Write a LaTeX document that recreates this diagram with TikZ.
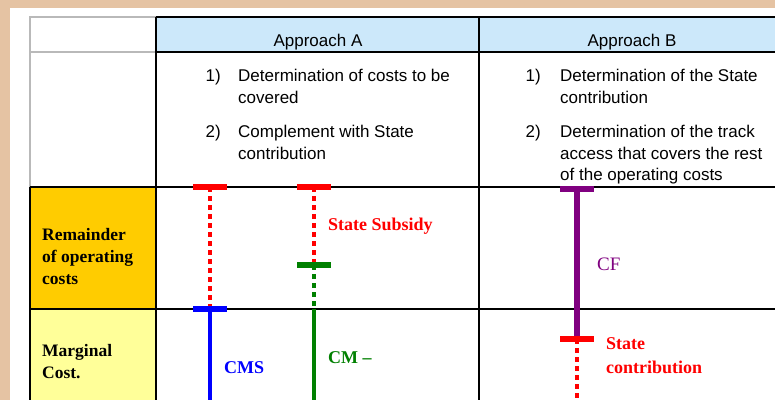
\documentclass[tikz,border=0pt]{standalone}
\usepackage{fontspec}
\setmainfont{Liberation Serif}
\setsansfont{Liberation Sans}
\definecolor{peach}{RGB}{229,195,163}
\definecolor{headblue}{RGB}{204,232,250}
\definecolor{remorange}{RGB}{255,204,0}
\definecolor{margyellow}{RGB}{255,255,153}
\definecolor{cfpurple}{RGB}{128,0,128}
\definecolor{cmgreen}{RGB}{0,128,0}

\begin{document}
\begin{tikzpicture}[x=1pt,y=-1pt,
  rule/.style={line width=1.8pt},
  tbar/.style={line width=5.5pt},
  bar/.style={line width=4.5pt},
  dots/.style={line width=4.5pt,dash pattern=on 4.5pt off 4.5pt},
  head/.style={font=\sffamily\fontsize{17}{21}\selectfont},
  item/.style={font=\sffamily\fontsize{17}{21.5}\selectfont,align=left,anchor=north west,inner sep=0pt},
  num/.style={font=\sffamily\fontsize{17}{21.5}\selectfont,anchor=north east,inner sep=0pt},
  row/.style={font=\bfseries\fontsize{17.5}{22}\selectfont,align=left,anchor=west,inner sep=0pt},
  lab/.style={font=\bfseries\fontsize{18}{24}\selectfont,align=left,anchor=west,inner sep=0pt}]
\useasboundingbox (0,0) rectangle (775,400);
\fill[peach] (0,0) rectangle (775,400);
\fill[white] (10,8) rectangle (775,400);
% cell fills
\fill[headblue] (156,17) rectangle (775,52);
\fill[remorange] (30,187) rectangle (156,309);
\fill[margyellow] (30,309) rectangle (156,400);
% table rules
\draw[rule,gray!55] (156,17) -- (30,17) -- (30,187) (30,52) -- (156,52);
\foreach \y in {17,52,187,309}{\draw[rule] (156,\y) -- (775,\y);};
\foreach \x in {156,479}{\draw[rule] (\x,17) -- (\x,400);};
\draw[rule] (30,187) -- (156,187) (30,309) -- (156,309) (30,187) -- (30,400);
% header and steps
\node[head] (hA) at (318,42) {Approach A};
\node[head] (hB) at (632,42) {Approach B};
\node[num] (nA1) at (221,69) {1)};
\node[item] (tA1) at (238,69) {Determination of costs to be\\covered};
\node[num] (nA2) at (221,125) {2)};
\node[item] (tA2) at (238,125) {Complement with State\\contribution};
\node[num] (nB1) at (541,69) {1)};
\node[item] (tB1) at (560,69) {Determination of the State\\contribution};
\node[num] (nB2) at (541,125) {2)};
\node[item] (tB2) at (560,125) {Determination of the track\\access that covers the rest\\of the operating costs};
\node[row] (rRem) at (42,257) {Remainder\\of operating\\costs};
\node[row] (rMarg) at (42,362) {Marginal\\Cost.};
% bars
\coordinate (aTop) at (210,187); \coordinate (aMid) at (210,309); \coordinate (aEnd) at (210,400);
\coordinate (sTop) at (314,187); \coordinate (sMid) at (314,265); \coordinate (sRow) at (314,309); \coordinate (sEnd) at (314,400);
\coordinate (bTop) at (577,189); \coordinate (bMid) at (577,339); \coordinate (bEnd) at (577,400);
\draw[dots,red] (aTop) -- (aMid);
\draw[bar,blue] (aMid) -- (aEnd);
\draw[dots,red] (sTop) -- (sMid);
\draw[dots,cmgreen] (sMid) -- (sRow);
\draw[bar,cmgreen] (sRow) -- (sEnd);
\draw[bar,cfpurple,line width=5.5pt] (bTop) -- (bMid);
\draw[dots,red] (bMid) -- (bEnd);
\draw[tbar,red] ([xshift=-17pt]aTop) -- ([xshift=17pt]aTop);
\draw[tbar,blue] ([xshift=-17pt]aMid) -- ([xshift=17pt]aMid);
\draw[tbar,red] ([xshift=-17pt]sTop) -- ([xshift=17pt]sTop);
\draw[tbar,cmgreen] ([xshift=-17pt]sMid) -- ([xshift=17pt]sMid);
\draw[tbar,cfpurple] ([xshift=-17pt]bTop) -- ([xshift=17pt]bTop);
\draw[tbar,red] ([xshift=-17pt]bMid) -- ([xshift=17pt]bMid);
\node[lab,red] (subsidy) at (328,226) {State Subsidy};
\node[lab,blue] (cms) at (224,368) {CMS};
\node[lab,cmgreen] (cm) at (328,358) {CM –};
\node[lab,cfpurple,font=\fontsize{19}{24}\selectfont] (cf) at (597,264) {CF};
\node[lab,red] (contrib) at (606,356) {State\\contribution};
\end{tikzpicture}
\end{document}
